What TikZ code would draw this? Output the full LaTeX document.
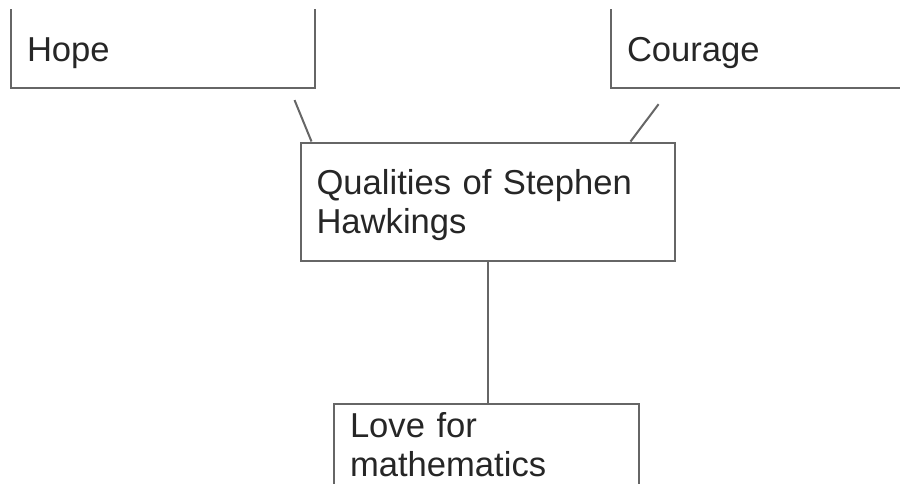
\documentclass[tikz,border=0pt]{standalone}
\usepackage{fontspec}
\setmainfont{Liberation Sans}
\definecolor{linegray}{HTML}{666666}
\definecolor{textgray}{HTML}{262626}

\begin{document}
\begin{tikzpicture}[
    % one unit is one pixel of the sheet, y runs downwards
    x=0.5pt, y=-0.5pt,
    box/.style={rectangle, draw=linegray, line width=1pt, align=left, inner xsep=8pt, inner ysep=0pt, text=textgray, font=\fontsize{17.3}{19.5}\selectfont},
    link/.style={draw=linegray, line width=1pt}
]
    \useasboundingbox (0,0) rectangle (900,483);
    \clip (0,9) rectangle (900,483);

    \node[box, anchor=south west, text width=136pt, text height=51pt, text depth=13.5pt] (hope) at (10,89) {Hope};
    \node[box, anchor=south west, text width=154pt, text height=51pt, text depth=13.5pt] (courage) at (610,89) {Courage};
    \node[box, anchor=north west, text width=171pt, text height=26pt, text depth=33pt] (qual) at (299.5,141.5) {Qualities of Stephen\\Hawkings};
    \node[box, anchor=north west, text width=136.5pt, text height=16.5pt, text depth=42pt] (love) at (333,403) {Love for\\mathematics};

    \draw[link, shorten <=6pt] ([xshift=-13pt]hope.south east) -- ([xshift=6pt]qual.north west);
    \draw[link, shorten <=9.5pt] ([xshift=30pt]courage.south west) -- ([xshift=-22.5pt]qual.north east);
    \draw[link] (qual.south) -- (qual.south |- love.north);
\end{tikzpicture}
\end{document}
